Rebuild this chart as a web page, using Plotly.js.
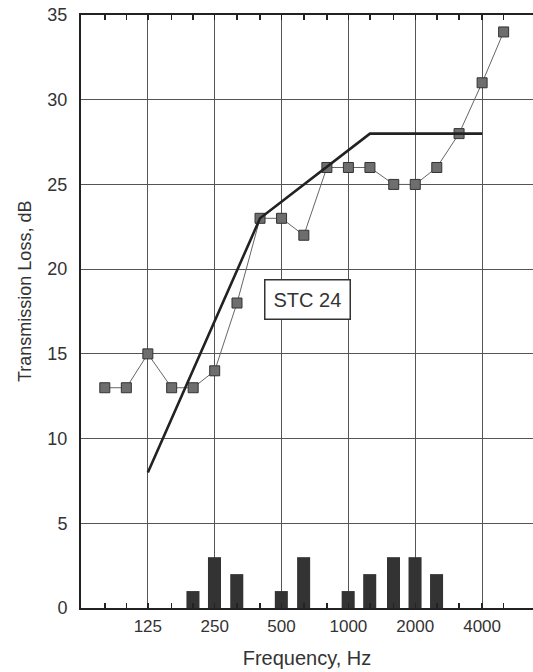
<!DOCTYPE html>
<html>
<head>
<meta charset="utf-8">
<script src="https://cdn.plot.ly/plotly-3.0.1.min.js"></script>
<style>
html,body{margin:0;padding:0;background:#fff;overflow:hidden;}
#chart{width:533px;height:672px;}
</style>
</head>
<body>
<div id="chart"></div>
<script>
// Third-octave band centre frequencies (Hz) and measured transmission loss (dB)
var bands = [80,100,125,160,200,250,315,400,500,630,800,1000,1250,1600,2000,2500,3150,4000,5000];
var transmissionLoss = [13,13,15,13,13,14,18,23,23,22,26,26,26,25,25,26,28,31,34];

// STC 24 reference contour (corner points)
var contourBands = [125,400,1250,4000];
var contourValues = [8,23,28,28];

// Deficiencies below the contour (dB)
var deficiencyBands = [200,250,315,500,630,1000,1250,1600,2000,2500];
var deficiencies = [1,3,2,1,3,1,2,3,3,2];

// Axis labels
var octaveTicks = [125,250,500,1000,2000,4000];
var octaveLabels = ['125','250','500','1000','2000','4000'];
var yTicks = [0,5,10,15,20,25,30,35];

var bandLabels = bands.map(function(f){
  var i = octaveTicks.indexOf(f);
  return i >= 0 ? octaveLabels[i] : '';
});
// bar width on a log axis is in linear units: keep a constant fraction of each band
var barWidths = deficiencyBands.map(function(f){ return f * 0.135; });

var font = {family:'Liberation Sans, Arial, Helvetica, sans-serif', color:'#333'};
var xRange = [Math.log10(62.5), Math.log10(6780)];

var traces = [
  {
    type:'bar', x:deficiencyBands, y:deficiencies, width:barWidths,
    marker:{color:'#333', line:{width:0}},
    hoverinfo:'skip', showlegend:false
  },
  {
    type:'scatter', mode:'lines', x:contourBands, y:contourValues,
    xaxis:'x2',
    line:{color:'#222', width:2.6},
    showlegend:false
  },
  {
    type:'scatter', mode:'lines+markers', x:bands, y:transmissionLoss,
    line:{color:'#666', width:1},
    marker:{symbol:'square', size:10, color:'#6e6e6e', line:{color:'#333', width:1}},
    showlegend:false
  }
];

var layout = {
  width:533, height:672,
  margin:{l:81, r:0, t:15, b:64},
  paper_bgcolor:'#fff', plot_bgcolor:'#fff',
  font:font,
  xaxis:{
    type:'log', range:xRange,
    tickmode:'array', tickvals:bands, ticktext:bandLabels,
    ticks:'inside', ticklen:5, tickwidth:1.5, tickcolor:'#222',
    showgrid:false,
    showline:true, linecolor:'#222', linewidth:2, mirror:'ticks',
    tickfont:{size:17, color:'#333'},
    ticklabelstandoff:2,
    zeroline:false,
    title:{text:'Frequency, Hz', font:{size:20, color:'#333'}, standoff:16}
  },
  xaxis2:{
    type:'log', range:xRange, overlaying:'x', side:'bottom',
    tickmode:'array', tickvals:octaveTicks, showticklabels:false,
    ticks:'', showgrid:true, gridcolor:'#555', gridwidth:1,
    showline:false, zeroline:false
  },
  yaxis:{
    range:[0,35], tickmode:'array', tickvals:yTicks,
    ticks:'', showgrid:true, gridcolor:'#555', gridwidth:1,
    showline:true, linecolor:'#222', linewidth:2, mirror:false,
    zeroline:false,
    tickfont:{size:18, color:'#333'},
    ticklabelstandoff:8
  },
  annotations:[
    {
      x:Math.log10(655), y:18.2, xref:'x', yref:'y',
      text:'STC 24', showarrow:false,
      font:{size:20, color:'#333', family:'Liberation Sans, Arial, sans-serif'},
      bgcolor:'#fff', bordercolor:'#333', borderwidth:1.5, borderpad:8
    },
    {
      x:0, y:0, xref:'paper', yref:'paper', xanchor:'center', yanchor:'middle',
      text:'Transmission Loss, dB', textangle:-90, showarrow:false,
      font:{size:18, color:'#333'}
    }
  ]
};
// y-title annotation placed in pixel terms converted to paper fraction
layout.annotations[1].x = (25 - layout.margin.l) / (layout.width - layout.margin.l - layout.margin.r);
layout.annotations[1].y = (layout.height - layout.margin.b - 292) / (layout.height - layout.margin.t - layout.margin.b);

Plotly.newPlot('chart', traces, layout, {staticPlot:true, displayModeBar:false});
</script>
</body>
</html>
